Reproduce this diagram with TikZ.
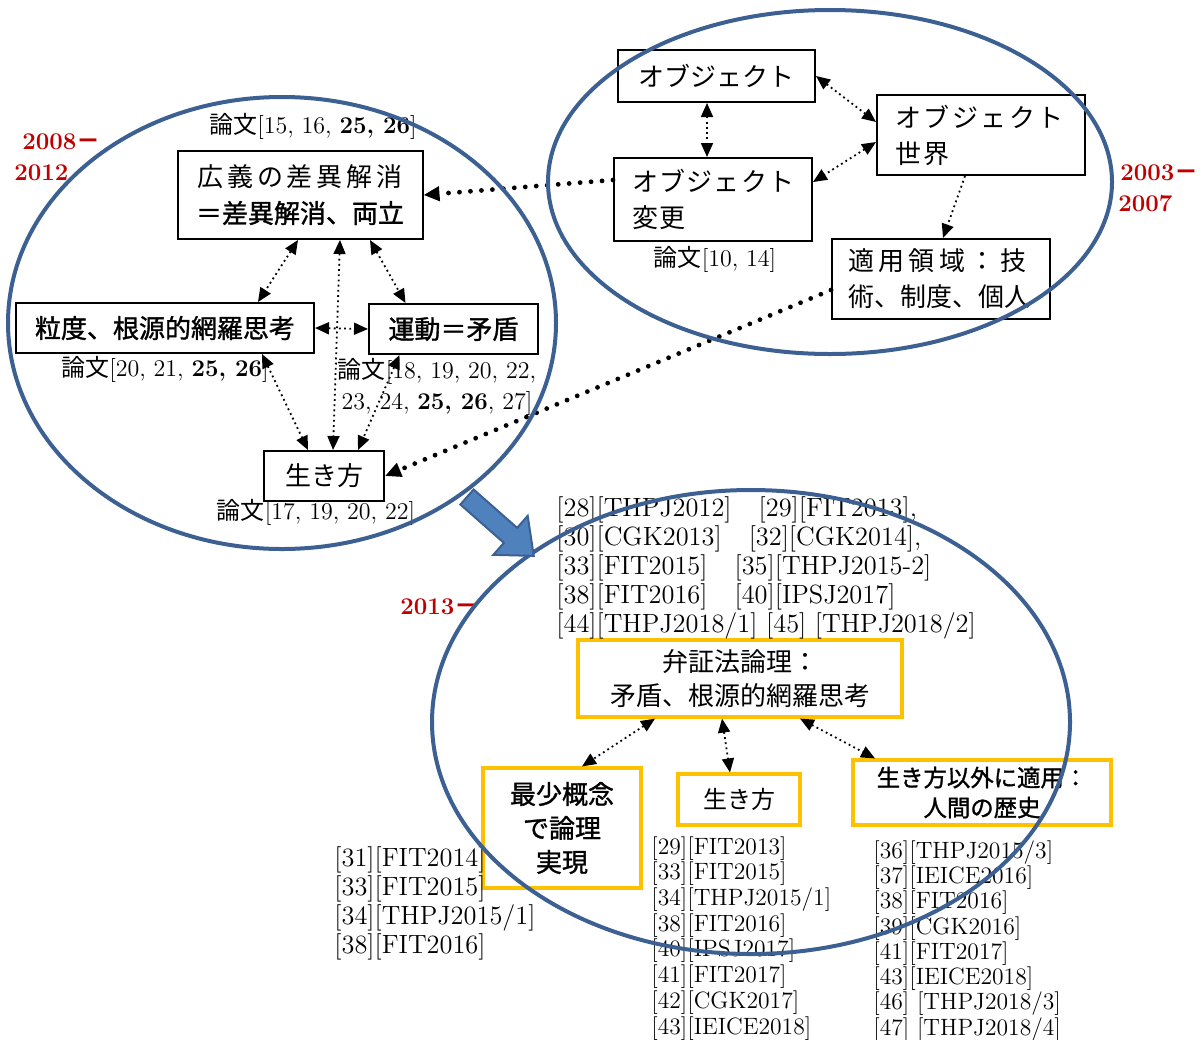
\documentclass[tikz,border=0pt]{standalone}
\usepackage{fontspec}
\newfontfamily\jp{Noto Sans CJK JP}
\newfontfamily\jpb{Noto Sans CJK JP}[FakeBold=1.3]
\usetikzlibrary{arrows.meta,positioning}
\definecolor{ringblue}{RGB}{60,96,146}
\definecolor{fillblue}{RGB}{79,129,189}
\definecolor{erared}{RGB}{192,0,0}
\definecolor{boxyellow}{RGB}{255,192,0}

\begin{document}
\begin{tikzpicture}[x=0.5pt,y=-0.5pt,
  box/.style={draw=black,line width=1pt,fill=white,inner sep=0pt,align=center,font=\jp\fontsize{13}{18}\selectfont},
  ybox/.style={box,draw=boxyellow,line width=1.6pt},
  ref/.style={inner sep=0pt,align=left,font=\fontsize{12}{15.5}\selectfont},
  refs/.style={inner sep=0pt,align=left,anchor=north west,font=\fontsize{13.2}{14.5}\selectfont},
  era/.style={inner sep=0pt,align=left,anchor=west,text=erared,font=\bfseries\fontsize{12}{15.5}\selectfont},
  ring/.style={draw=ringblue,line width=2pt},
  onearrow/.style={line width=0.9pt,dash pattern=on 0.9pt off 1.7pt,-{Triangle[length=7pt,width=6pt]}},
  link/.style={line width=0.9pt,dash pattern=on 0.9pt off 1.7pt,{Triangle[length=7pt,width=6pt]}-{Triangle[length=7pt,width=6pt]}},
  bigdots/.style={line width=2.4pt,line cap=round,dash pattern=on 0pt off 5.5pt,-{Triangle[length=8pt,width=7pt]}}]
\useasboundingbox (0,0) rectangle (1202,1039);
% 2008-2012
\node (kougi) at (300,195) [box,minimum width=122.5pt,minimum height=44pt] {{\addfontfeatures{LetterSpace=15}広義の差異解消}\\{\jpb ＝差異解消、両立}};
\node (ryudo) at (165,328) [box,minimum width=149pt,minimum height=25pt] {\jpb 粒度、根源的網羅思考};
\node (undou) at (453.5,329) [box,minimum width=84.5pt,minimum height=25pt] {\jpb 運動＝矛盾};
\node (ikikata) at (324,476) [box,minimum width=60pt,minimum height=25pt] {生き方};
\node (lbl15) at (313,126) [ref] {{\jp 論文}[15, 16, \textbf{25, 26}]};
\node (lbl20) at (165,369) [ref] {{\jp 論文}[20, 21, \textbf{25, 26}]};
\node (lbl18) at (437,387) [ref,align=center] {{\jp 論文}[18, 19, 20, 22,\\23, 24, \textbf{25, 26}, 27]};
\node (lbl17) at (316,512) [ref] {{\jp 論文}[17, 19, 20, 22]};
\node (era1) at (14,157) [era] {\hspace*{4pt}2008{\jp －}\\2012};
% 2003-2007
\node (obj) at (716.5,76) [box,minimum width=98.5pt,minimum height=26pt] {オブジェクト};
\node (objworld) at (981,135) [box,minimum width=104pt,minimum height=40pt,text width=86pt,align=left] {\addfontfeatures{LetterSpace=10}オブジェクト\\世界};
\node (objchange) at (713,199.5) [box,minimum width=99pt,minimum height=41.5pt,text width=81pt,align=left] {\addfontfeatures{LetterSpace=5}オブジェクト\\変更};
\node (tekiyou) at (941,279) [box,minimum width=109pt,minimum height=40pt,text width=93pt,align=left] {{\addfontfeatures{LetterSpace=17}適用領域：技}\\術、制度、個人};
\node (lbl10) at (715,259) [ref] {{\jp 論文}[10, 14]};
\node (era2) at (1118,188) [era] {\hspace*{1pt}2003{\jp －}\\2007};
% 2013-
\node (bensho) at (740,678.5) [ybox,minimum width=162pt,minimum height=38.5pt,font=\jp\fontsize{13}{17}\selectfont] {弁証法論理：\\矛盾、根源的網羅思考};
\node (saishou) at (562,828) [ybox,minimum width=79pt,minimum height=60pt,font=\jpb\fontsize{13}{17}\selectfont] {最少概念\\で論理\\実現};
\node (ikikata2) at (739,799.5) [ybox,minimum width=61pt,minimum height=25.5pt,font=\jp\fontsize{12}{15}\selectfont] {生き方};
\node (igai) at (982,792.5) [ybox,minimum width=129pt,minimum height=32.5pt,font=\jpb\fontsize{11.7}{15}\selectfont] {生き方以外に適用：\\人間の歴史};
\node (era3) at (400,607) [era] {2013{\jp －}};
\node (refall) at (556,496) [refs] {[28][THPJ2012]\hspace{13.5pt}[29][FIT2013],\\{}[30][CGK2013]\hspace{13.5pt}[32][CGK2014],\\{}[33][FIT2015]\hspace{13.5pt}[35][THPJ2015-2]\\{}[38][FIT2016]\hspace{13.5pt}[40][IPSJ2017]\\{}[44][THPJ2018/1] [45] [THPJ2018/2]};
\node (refsai) at (334,846) [refs] {[31][FIT2014]\\{}[33][FIT2015]\\{}[34][THPJ2015/1]\\{}[38][FIT2016]};
\node (refliv) at (651,836) [refs,font=\fontsize{11.8}{12.85}\selectfont] {[29][FIT2013]\\{}[33][FIT2015]\\{}[34][THPJ2015/1]\\{}[38][FIT2016]\\{}[40][IPSJ2017]\\{}[41][FIT2017]\\{}[42][CGK2017]\\{}[43][IEICE2018]};
\node (refigai) at (873,840) [refs,font=\fontsize{11.8}{12.65}\selectfont] {[36][THPJ2015/3]\\{}[37][IEICE2016]\\{}[38][FIT2016]\\{}[39][CGK2016]\\{}[41][FIT2017]\\{}[43][IEICE2018]\\{}[46] [THPJ2018/3]\\{}[47] [THPJ2018/4]};
% connectors
\draw[link] ([xshift=-1pt]kougi.south) -- ([xshift=46.5pt]ryudo.north);
\draw[link] ([xshift=20pt]kougi.south) -- ([xshift=4.5pt]ikikata.north);
\draw[link] ([xshift=35pt]kougi.south) -- ([xshift=-24pt]undou.north);
\draw[link] (ryudo.east) -- (undou.west);
\draw[link] ([xshift=48.5pt]ryudo.south) -- ([xshift=-8pt]ikikata.north);
\draw[link] ([xshift=-27pt]undou.south) -- ([xshift=17pt]ikikata.north);
\draw[link] ([xshift=-4.75pt]obj.south) -- ([xshift=-3pt]objchange.north);
\draw[link] (obj.east) -- ([yshift=6.5pt]objworld.west);
\draw[link] ([yshift=-3.5pt]objworld.west) -- ([yshift=8.75pt]objchange.east);
\draw[onearrow] ([xshift=-8pt]objworld.south) -- ([xshift=1pt]tekiyou.north);
\draw[bigdots] ([yshift=9.75pt]objchange.west) -- (kougi.east);
\draw[bigdots] ([yshift=-5.5pt]tekiyou.west) -- (ikikata.east);
\draw[link] ([xshift=-42.5pt]bensho.south) -- ([xshift=10pt]saishou.north);
\draw[link] ([xshift=-9pt]bensho.south) -- ([xshift=-4.5pt]ikikata2.north);
\draw[link] ([xshift=30pt]bensho.south) -- ([xshift=-53.5pt]igai.north);
% periods
\draw[ring] (282,323) ellipse [x radius=274,y radius=226];
\draw[ring] (830,182) ellipse [x radius=282,y radius=172];
\draw[ring] (751,722) ellipse [x radius=319,y radius=232];
\begin{scope}[shift={(467,497)},rotate=-41.4]
\filldraw[fill=fillblue,draw=ringblue,line width=1pt] (0,-10) -- (58,-10) -- (58,-26) -- (89,0) -- (58,26) -- (58,10) -- (0,10) -- cycle;
\end{scope}
\end{tikzpicture}
\end{document}
